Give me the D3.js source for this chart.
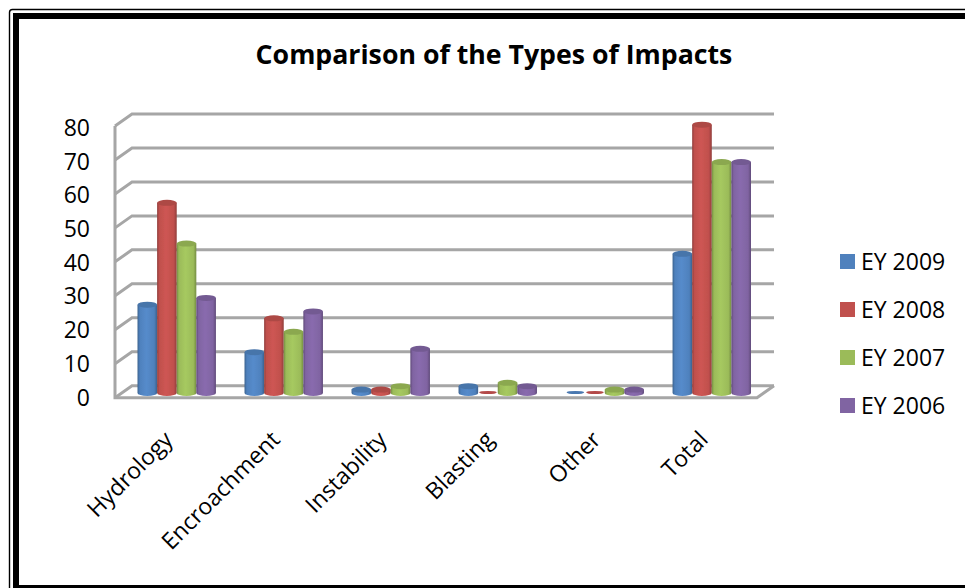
<!DOCTYPE html>
<html>
<head>
<meta charset="utf-8">
<script src="https://cdn.jsdelivr.net/npm/d3@7"></script>
<style>
html,body{margin:0;padding:0;background:#fff}
svg{display:block}
text{font-family:"Open Sans",Lato,sans-serif;fill:#000}
</style>
</head>
<body>
<svg id="chart" width="965" height="588"></svg>
<script>
// Impact counts per category and evaluation year
const categories = ["Hydrology","Encroachment","Instability","Blasting","Other","Total"];
const ey2009 = [26,12,1,2,0,41];
const ey2008 = [56,22,1,0,0,79];
const ey2007 = [44,18,2,3,1,68];
const ey2006 = [28,24,13,2,1,68];
const seriesNames = ["EY 2009","EY 2008","EY 2007","EY 2006"];
const seriesColors = ["#4f81bd","#c0504d","#9bbb59","#8064a2"];
const yTicks = [0,10,20,30,40,50,60,70,80];
const titleText = "Comparison of the Types of Impacts";

const seriesValues = [ey2009,ey2008,ey2007,ey2006];
const svg = d3.select("#chart");

// Scales: y gives the front-plane height, depth offsets shift it to the back wall
const depthX = 17, depthY = -12;
const y = d3.scaleLinear().domain([0,80]).range([397.7,126]);
const yLabel = d3.scaleLinear().domain([0,80]).range([405.5,136]);
const xBand = d3.scaleBand().domain(categories).range([137.5,751]).paddingInner(0.267).paddingOuter(0);
const xSeries = d3.scaleBand().domain(seriesNames).range([0,xBand.bandwidth()]);
const barBase = 393;
const barHeight = v => y(0)-y(v);

// Heavy frame with a thin outer rule; it runs off the right side of the page
const frame = svg.append("g").attr("fill","none").attr("stroke","#000");
frame.append("path").attr("d","M970,9.5H12.5a3,3 0 0 0 -3,3V600").attr("stroke-width",1.4);
frame.append("path").attr("d","M970,16H16V588H970").attr("stroke-width",6);

svg.append("text").attr("x",494).attr("y",64).attr("text-anchor","middle")
  .attr("font-size",26.7).attr("font-weight",700).text(titleText);

// Horizontal shading for the cylinders, and the slight softening of grid and bars
const defs = svg.append("defs");
seriesColors.forEach((c,i)=>{
  const g = defs.append("linearGradient").attr("id","cyl"+i);
  const base = d3.color(c);
  [[0,base.darker(0.8)],[0.12,base],[0.45,base.brighter(0.2)],[0.85,base],[1,base.darker(0.8)]]
    .forEach(([o,col])=>g.append("stop").attr("offset",o).attr("stop-color",col));
});
defs.append("filter").attr("id","soft").attr("x","-10%").attr("y","-10%").attr("width","120%").attr("height","120%")
  .append("feGaussianBlur").attr("stdDeviation",0.7);
defs.append("filter").attr("id","softGrid").attr("x","-5%").attr("y","-5%").attr("width","110%").attr("height","110%")
  .append("feGaussianBlur").attr("stdDeviation",0.4);

// Wall grid, side wall and floor
const gridColor = "#a6a6a6";
const grid = svg.append("g").attr("stroke",gridColor).attr("stroke-width",3).attr("fill","none").attr("filter","url(#softGrid)");
const left = 115, right = 757;
yTicks.forEach(t=>{
  grid.append("path").attr("d",`M${left},${y(t)}L${left+depthX},${y(t)+depthY}L${right+depthX},${y(t)+depthY}`);
});
grid.append("path").attr("d",`M${left},${y(80)}L${left},${y(0)}L${right},${y(0)}L${right+depthX},${y(0)+depthY}`);

// Tick labels
svg.append("g").selectAll("text").data(yTicks).join("text")
  .attr("x",90).attr("y",d=>yLabel(d)).attr("text-anchor","end").attr("font-size",23).text(d=>d);

// Cylindrical bars, in series order within each category
const barsLayer = svg.append("g").attr("filter","url(#soft)");
categories.forEach((cat,ci)=>{
  seriesNames.forEach((name,si)=>{
    const v = seriesValues[si][ci];
    const w = xSeries.bandwidth();
    const x0 = xBand(cat)+xSeries(name);
    const rx = w/2, ry = 3;
    const cx = x0+rx;
    const top = barBase-barHeight(v);
    const g = barsLayer.append("g");
    if (v===0) {
      // An empty value leaves only a thin flat disc on the floor
      g.append("ellipse").attr("cx",cx).attr("cy",barBase-0.5).attr("rx",rx-1).attr("ry",1.6)
        .attr("fill",d3.color(seriesColors[si]).darker(0.2));
      return;
    }
    g.append("path")
      .attr("d",`M${x0},${top}L${x0},${barBase}A${rx},${ry} 0 0 0 ${x0+w},${barBase}L${x0+w},${top}Z`)
      .attr("fill",`url(#cyl${si})`);
    g.append("ellipse").attr("cx",cx).attr("cy",top).attr("rx",rx).attr("ry",ry)
      .attr("fill",d3.color(seriesColors[si]).darker(0.3));
  });
});

// Rotated category labels ending under each group
svg.append("g").selectAll("text").data(categories).join("text")
  .attr("transform",d=>`translate(${xBand(d)+xBand.bandwidth()/2-2.5},${441}) rotate(-45)`)
  .attr("text-anchor","end").attr("font-size",23).text(d=>d);

// Legend
const legend = svg.append("g").selectAll("g").data(seriesNames).join("g")
  .attr("transform",(d,i)=>`translate(840,${254+i*48})`);
legend.append("rect").attr("width",15).attr("height",15).attr("fill",(d,i)=>seriesColors[i]);
legend.append("text").attr("x",21).attr("y",15.5).attr("font-size",23).text(d=>d);
</script>
</body>
</html>
